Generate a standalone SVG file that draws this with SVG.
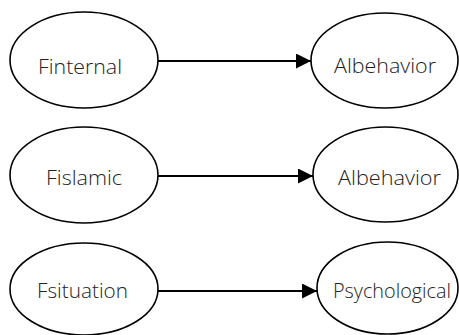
<svg xmlns="http://www.w3.org/2000/svg" width="459" height="335" viewBox="0 0 459 335">
<style>
.n ellipse{fill:#fff;stroke:#000;stroke-width:1.6}
.n text{font-family:"Open Sans","Noto Sans",sans-serif;font-size:21px;font-weight:300;fill:#222}
.c line{stroke:#000;stroke-width:2}
</style>
<defs>
<marker id="ah" viewBox="0 0 15 15" refX="15" refY="7.5" markerWidth="15" markerHeight="15" markerUnits="userSpaceOnUse" orient="auto">
<path d="M0,0 L15,7.5 L0,15 Z" fill="#000"/>
</marker>
</defs>
<g class="c">
<line x1="158" y1="61" x2="311" y2="61" marker-end="url(#ah)"/>
<line x1="158" y1="176" x2="313" y2="176" marker-end="url(#ah)"/>
<line x1="158" y1="291" x2="317" y2="291" marker-end="url(#ah)"/>
</g>
<g id="finternal" class="n"><ellipse cx="84" cy="60" rx="74" ry="48"/><text x="38" y="74" textLength="84" lengthAdjust="spacingAndGlyphs">Finternal</text></g>
<g id="albehavior1" class="n"><ellipse cx="384.5" cy="60.5" rx="73.5" ry="47.5"/><text x="334" y="73" textLength="102" lengthAdjust="spacingAndGlyphs">Albehavior</text></g>
<g id="fislamic" class="n"><ellipse cx="84" cy="175" rx="74" ry="48"/><text x="46" y="185" textLength="76" lengthAdjust="spacingAndGlyphs">Fislamic</text></g>
<g id="albehavior2" class="n"><ellipse cx="385.5" cy="174.5" rx="72.5" ry="47.5"/><text x="338" y="185" textLength="103" lengthAdjust="spacingAndGlyphs">Albehavior</text></g>
<g id="fsituation" class="n"><ellipse cx="84" cy="289" rx="74" ry="46"/><text x="37" y="298" textLength="91" lengthAdjust="spacingAndGlyphs">Fsituation</text></g>
<g id="psychological" class="n"><ellipse cx="387.5" cy="288" rx="70.5" ry="46"/><text x="333" y="298" textLength="118" lengthAdjust="spacingAndGlyphs">Psychological</text></g>
</svg>
